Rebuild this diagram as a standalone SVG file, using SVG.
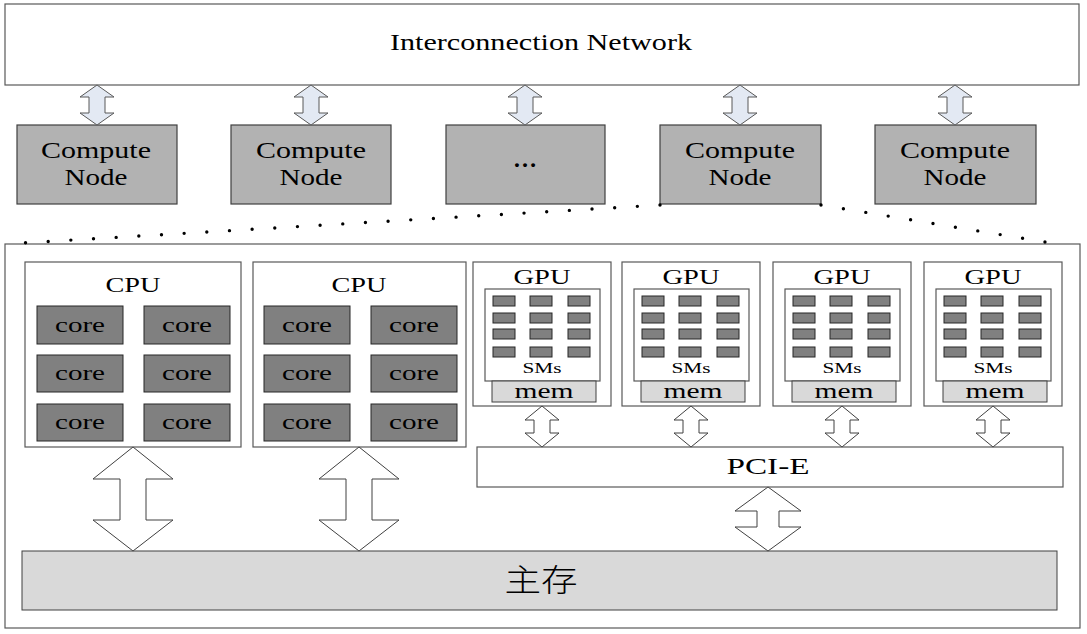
<svg xmlns="http://www.w3.org/2000/svg" width="1087" height="634" viewBox="0 0 1087 634">
  <style>
    .txt { font-family: "Liberation Serif", "Times New Roman", serif; fill: #000; text-anchor: middle; }
    .cjk { font-family: "Liberation Serif", "Noto Sans CJK SC", serif; fill: #000; text-anchor: middle; }
    .frame { fill: #fff; stroke: #595959; stroke-width: 1.2; }
    .node { fill: #b2b2b2; stroke: #404040; stroke-width: 1.2; }
    .core { fill: #808080; stroke: #262626; stroke-width: 1; }
    .sm { fill: #808080; stroke: #262626; stroke-width: 1; }
    .mem { fill: #d9d9d9; stroke: #404040; stroke-width: 1; }
    .main { fill: #d9d9d9; stroke: #404040; stroke-width: 1; }
    .net-arrow { fill: #e3e9f3; stroke: #595959; stroke-width: 1; }
    .bus-arrow { fill: #fff; stroke: #404040; stroke-width: 1; }
    .dots { fill: none; stroke: #000; stroke-width: 3.4; stroke-linecap: round; stroke-dasharray: 0 22.7; }
  </style>
  <defs>
    <!-- double-headed arrows, drawn around x=0 from y=0 downward -->
    <path id="arrowSmall" d="M0,0 L17,12 L8,12 L8,28 L17,28 L0,40 L-17,28 L-8,28 L-8,12 L-17,12 Z"/>
    <path id="arrowGpu" d="M0,0 L17,14 L8,14 L8,27 L17,27 L0,41 L-17,27 L-8,27 L-8,14 L-17,14 Z"/>
    <path id="arrowCpu" d="M0,0 L40,32 L13,32 L13,73 L40,73 L0,104 L-40,73 L-13,73 L-13,32 L-40,32 Z"/>
    <path id="arrowPci" d="M0,0 L33,24 L11,24 L11,40 L33,40 L0,64 L-33,40 L-11,40 L-11,24 L-33,24 Z"/>
    <!-- a GPU card: outer box, SM array, on-board memory -->
    <g id="gpuCard">
      <rect class="frame" x="0" y="0" width="138" height="144"/>
      <text class="txt" x="69" y="22" font-size="21" textLength="57" lengthAdjust="spacingAndGlyphs">GPU</text>
      <rect class="frame" x="12" y="27" width="115" height="92" stroke="#404040"/>
      <rect class="sm" x="20" y="34" width="22" height="10"/>
      <rect class="sm" x="57" y="34" width="22" height="10"/>
      <rect class="sm" x="95" y="34" width="22" height="10"/>
      <rect class="sm" x="20" y="51" width="22" height="10"/>
      <rect class="sm" x="57" y="51" width="22" height="10"/>
      <rect class="sm" x="95" y="51" width="22" height="10"/>
      <rect class="sm" x="20" y="67" width="22" height="10"/>
      <rect class="sm" x="57" y="67" width="22" height="10"/>
      <rect class="sm" x="95" y="67" width="22" height="10"/>
      <rect class="sm" x="20" y="85" width="22" height="10"/>
      <rect class="sm" x="57" y="85" width="22" height="10"/>
      <rect class="sm" x="95" y="85" width="22" height="10"/>
      <text class="txt" x="69" y="111" font-size="14" textLength="39" lengthAdjust="spacingAndGlyphs">SMs</text>
      <rect class="mem" x="19" y="119" width="104" height="21"/>
      <text class="txt" x="71" y="136" font-size="22" textLength="59" lengthAdjust="spacingAndGlyphs">mem</text>
    </g>
    <!-- a CPU socket with six cores -->
    <g id="cpuCores">
      <rect class="core" x="0" y="0" width="86" height="38"/>
      <rect class="core" x="107" y="0" width="86" height="38"/>
      <rect class="core" x="0" y="49" width="86" height="37"/>
      <rect class="core" x="107" y="49" width="86" height="37"/>
      <rect class="core" x="0" y="98" width="86" height="37"/>
      <rect class="core" x="107" y="98" width="86" height="37"/>
      <g font-size="21">
        <text class="txt" x="43" y="26" textLength="50" lengthAdjust="spacingAndGlyphs">core</text>
        <text class="txt" x="150" y="26" textLength="50" lengthAdjust="spacingAndGlyphs">core</text>
        <text class="txt" x="43" y="74" textLength="50" lengthAdjust="spacingAndGlyphs">core</text>
        <text class="txt" x="150" y="74" textLength="50" lengthAdjust="spacingAndGlyphs">core</text>
        <text class="txt" x="43" y="123" textLength="50" lengthAdjust="spacingAndGlyphs">core</text>
        <text class="txt" x="150" y="123" textLength="50" lengthAdjust="spacingAndGlyphs">core</text>
      </g>
    </g>
  </defs>

  <!-- cluster level -->
  <g id="network">
    <rect class="frame" x="5" y="4" width="1074" height="81"/>
    <text class="txt" x="541" y="50" font-size="23" textLength="302" lengthAdjust="spacingAndGlyphs">Interconnection Network</text>
  </g>
  <g id="node1">
    <rect class="node" x="17" y="125" width="160" height="79"/>
    <text class="txt" x="96" y="158" font-size="23" textLength="110" lengthAdjust="spacingAndGlyphs">Compute</text>
    <text class="txt" x="96" y="185" font-size="23" textLength="63" lengthAdjust="spacingAndGlyphs">Node</text>
  </g>
  <g id="node2">
    <rect class="node" x="231" y="125" width="160" height="79"/>
    <text class="txt" x="311" y="158" font-size="23" textLength="110" lengthAdjust="spacingAndGlyphs">Compute</text>
    <text class="txt" x="311" y="185" font-size="23" textLength="63" lengthAdjust="spacingAndGlyphs">Node</text>
  </g>
  <g id="node3">
    <rect class="node" x="446" y="125" width="159" height="79"/>
    <text class="txt" x="525" y="167" font-size="24" font-weight="bold" textLength="24" lengthAdjust="spacingAndGlyphs">…</text>
  </g>
  <g id="node4">
    <rect class="node" x="660" y="125" width="161" height="79"/>
    <text class="txt" x="740" y="158" font-size="23" textLength="110" lengthAdjust="spacingAndGlyphs">Compute</text>
    <text class="txt" x="740" y="185" font-size="23" textLength="63" lengthAdjust="spacingAndGlyphs">Node</text>
  </g>
  <g id="node5">
    <rect class="node" x="875" y="125" width="161" height="79"/>
    <text class="txt" x="955" y="158" font-size="23" textLength="110" lengthAdjust="spacingAndGlyphs">Compute</text>
    <text class="txt" x="955" y="185" font-size="23" textLength="63" lengthAdjust="spacingAndGlyphs">Node</text>
  </g>

  <!-- node internals -->
  <g id="node-detail">
    <rect class="frame" x="5" y="244" width="1075" height="384"/>
  </g>
  <g id="cpu1">
    <rect class="frame" x="25" y="262" width="216" height="185"/>
    <text class="txt" x="133" y="292" font-size="22" textLength="55" lengthAdjust="spacingAndGlyphs">CPU</text>
    <use href="#cpuCores" x="37" y="306"/>
  </g>
  <g id="cpu2">
    <rect class="frame" x="253" y="262" width="213" height="185"/>
    <text class="txt" x="359" y="292" font-size="22" textLength="55" lengthAdjust="spacingAndGlyphs">CPU</text>
    <use href="#cpuCores" x="264" y="306"/>
  </g>
  <g id="gpu1"><use href="#gpuCard" x="473" y="262"/></g>
  <g id="gpu2"><use href="#gpuCard" x="622" y="262"/></g>
  <g id="gpu3"><use href="#gpuCard" x="773" y="262"/></g>
  <g id="gpu4"><use href="#gpuCard" x="924" y="262"/></g>
  <g id="pcie">
    <rect class="frame" x="477" y="447" width="586" height="40" stroke="#404040"/>
    <text class="txt" x="768" y="474" font-size="23" textLength="83" lengthAdjust="spacingAndGlyphs">PCI-E</text>
  </g>
  <g id="main-memory">
    <rect class="main" x="22" y="551" width="1035" height="59"/>
    <text class="cjk" x="541" y="591" font-size="31" font-weight="300" textLength="73" lengthAdjust="spacingAndGlyphs">主存</text>
  </g>

  <!-- connectors -->
  <g id="connectors">
    <use href="#arrowSmall" class="net-arrow" x="97" y="85"/>
    <use href="#arrowSmall" class="net-arrow" x="311" y="85"/>
    <use href="#arrowSmall" class="net-arrow" x="525" y="85"/>
    <use href="#arrowSmall" class="net-arrow" x="740" y="85"/>
    <use href="#arrowSmall" class="net-arrow" x="955" y="85"/>
    <use href="#arrowGpu" class="bus-arrow" x="542" y="406"/>
    <use href="#arrowGpu" class="bus-arrow" x="691" y="406"/>
    <use href="#arrowGpu" class="bus-arrow" x="842" y="406"/>
    <use href="#arrowGpu" class="bus-arrow" x="993" y="406"/>
    <use href="#arrowCpu" class="bus-arrow" x="133" y="447"/>
    <use href="#arrowCpu" class="bus-arrow" x="359" y="447"/>
    <use href="#arrowPci" class="bus-arrow" x="768" y="487"/>
    <!-- zoom lines from one compute node down to its detailed view -->
    <path class="dots" d="M660,205 L22,243"/>
    <path class="dots" d="M821,205 L1045,242"/>
  </g>
</svg>
